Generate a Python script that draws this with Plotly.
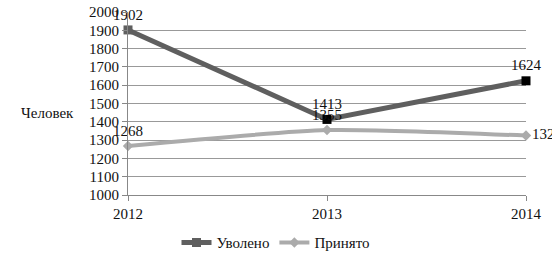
import plotly.graph_objects as go

years = [2012, 2013, 2014]
uvoleno = [1902, 1413, 1624]
prinyato = [1268, 1355, 1325]
y_ticks = list(range(1000, 2001, 100))
title_y = "Человек"
names = ["Уволено", "Принято"]

FONT = "Liberation Serif"
FS = 15

fig = go.Figure()
fig.add_trace(go.Scatter(
    x=years, y=uvoleno, name=names[0], mode="lines+markers+text",
    line=dict(color="#5f5f5f", width=5),
    marker=dict(symbol="square", size=9, color=["#5f5f5f", "#000000", "#000000"]),
    text=[str(v) for v in uvoleno], textposition="top center",
    textfont=dict(family=FONT, size=FS, color="#111"),
    cliponaxis=False,
))
fig.add_trace(go.Scatter(
    x=years, y=prinyato, name=names[1], mode="lines+markers+text",
    line=dict(color="#ababab", width=4, shape="spline", smoothing=0.6),
    marker=dict(symbol="diamond", size=8, color="#ababab"),
    text=[str(v) for v in prinyato],
    textposition=["top center", "top center", "middle right"],
    textfont=dict(family=FONT, size=FS, color="#111"),
    cliponaxis=False,
))

fig.update_layout(
    width=552, height=256,
    margin=dict(l=128, r=26, t=12, b=61, autoexpand=False),
    paper_bgcolor="white", plot_bgcolor="white",
    font=dict(family=FONT, size=FS, color="#111"),
    showlegend=True,
    legend=dict(orientation="h", xref="container", x=0.5, xanchor="center",
                yref="container", y=0.052, yanchor="middle",
                font=dict(family=FONT, size=FS), itemwidth=30),
    annotations=[dict(text=title_y, xref="paper", yref="paper", x=-0.2035, y=0.45,
                      xanchor="center", yanchor="middle", showarrow=False,
                      font=dict(family=FONT, size=FS))],
)
fig.update_xaxes(range=[2012, 2014], tickvals=years, ticktext=[str(y) for y in years],
                 showgrid=False, showline=True, linecolor="#888", linewidth=1,
                 ticks="outside", ticklen=5, tickcolor="#888", zeroline=False,
                 automargin=False, tickfont=dict(family=FONT, size=FS))
fig.update_yaxes(range=[1000, 2000], tickvals=y_ticks, showgrid=True, gridcolor="#999",
                 gridwidth=1, showline=True, linecolor="#888", linewidth=1,
                 ticks="outside", ticklen=5, tickcolor="#888", zeroline=False,
                 automargin=False, tickfont=dict(family=FONT, size=FS))

fig.write_html("out.html")
